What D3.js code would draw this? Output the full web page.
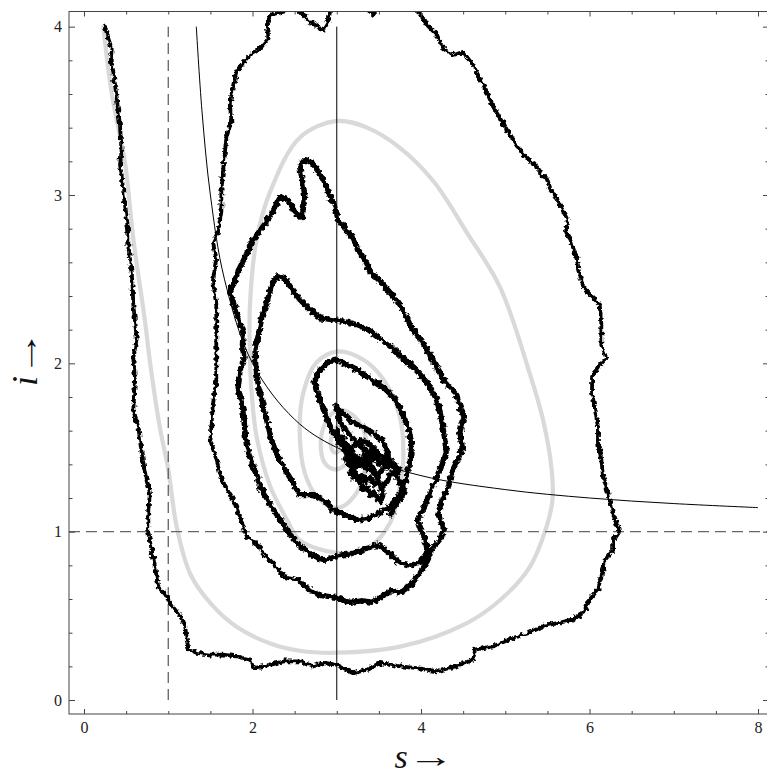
<!DOCTYPE html>
<html><head><meta charset="utf-8">
<script src="https://cdn.jsdelivr.net/npm/d3@7"></script>
<style>
html,body{margin:0;padding:0;background:#fff;}
svg{display:block;}
</style></head>
<body>
<svg id="chart" width="767" height="778"></svg>
<script>
// ---------- data ----------
const xMajorTicks = [0, 2, 4, 6, 8];
const yMajorTicks = [0, 1, 2, 3, 4];
const xMinorTicks = [0.5, 1, 1.5, 2.5, 3, 3.5, 4.5, 5, 5.5, 6.5, 7, 7.5];
const yMinorTicks = [0.2,0.4,0.6,0.8,1.2,1.4,1.6,1.8,2.2,2.4,2.6,2.8,3.2,3.4,3.6,3.8];
const xTitle = 's', yTitle = 'i', arrowGlyph = '→';

// reference lines
const sThreshold = 1;      // dashed vertical
const iThreshold = 1;      // dashed horizontal
const sEquilibrium = 3;    // solid vertical

// thin nullcline curve (s, i)
const nullcline = [[1.333,4.0],[1.4,3.5],[1.5,3.0],[1.667,2.5],[2.0,2.0],[2.5,1.667],[3.0,1.5],
  [4.0,1.333],[5.0,1.25],[6.0,1.2],[7.0,1.167],[8.0,1.143]];

// deterministic trajectory (grey spiral)
const deterministic = [[0.23,4.0],[0.33,3.6],[0.49,3.18],[0.585,2.74],[0.724,2.25],[0.78,2.02],[0.9,1.62],
  [1.0,1.37],[1.1,1.03],[1.26,0.75],[1.5,0.575],[1.81,0.435],[2.21,0.336],[2.56,0.293],[3.0,0.281],
  [3.75,0.317],[4.54,0.456],[4.94,0.594],[5.29,0.79],[5.49,1.03],[5.56,1.19],[5.55,1.37],[5.45,1.66],
  [5.29,1.94],[4.94,2.45],[4.54,2.78],[4.15,3.08],[3.75,3.28],[3.36,3.4],[3.0,3.44],[2.56,3.34],
  [2.21,3.02],[2.05,2.74],[1.97,2.35],[1.97,2.03],[1.99,1.82],[2.05,1.56],[2.21,1.27],[2.41,1.07],
  [2.56,0.95],[3.0,0.875],[3.36,0.9],[3.63,1.05],[3.75,1.27],[3.79,1.43],[3.75,1.68],[3.56,1.9],
  [3.32,2.02],[3.0,2.07],[2.75,2.0],[2.6,1.82],[2.56,1.6],[2.62,1.35],[2.78,1.2],[3.0,1.14],
  [3.22,1.22],[3.36,1.42],[3.32,1.6],[3.17,1.7],[3.0,1.72],[2.86,1.64],[2.81,1.5],[2.87,1.4],
  [3.0,1.37],[3.14,1.42],[3.19,1.52],[3.12,1.6],[3.0,1.62],[2.93,1.55],[2.95,1.48],[3.0,1.47],
  [3.05,1.5],[3.02,1.54],[3.0,1.52]];

// stochastic trajectory, outer loop
const stochasticOuter = [[0.249,4.0],[0.288,3.93],[0.329,3.87],[0.317,3.79],[0.348,3.73],[0.368,3.65],
  [0.388,3.58],[0.407,3.5],[0.427,3.42],[0.436,3.34],[0.447,3.26],[0.427,3.18],[0.447,3.12],[0.466,3.02],
  [0.487,2.94],[0.507,2.86],[0.526,2.78],[0.526,2.7],[0.546,2.62],[0.566,2.54],[0.578,2.45],[0.585,2.35],
  [0.605,2.25],[0.626,2.15],[0.585,2.03],[0.605,1.9],[0.585,1.72],[0.645,1.62],[0.685,1.47],[0.724,1.35],
  [0.783,1.23],[0.763,1.13],[0.763,1.0],[0.804,0.89],[0.843,0.79],[0.882,0.67],[0.961,0.63],[1.06,0.55],
  [1.14,0.5],[1.2,0.44],[1.22,0.36],[1.24,0.3],[1.34,0.28],[1.5,0.27],[1.65,0.27],[1.81,0.26],[1.97,0.24],
  [2.01,0.19],[2.21,0.21],[2.37,0.23],[2.56,0.23],[2.72,0.2],[2.84,0.22],[3.0,0.21],[3.2,0.16],[3.36,0.18],
  [3.51,0.22],[3.75,0.2],[3.95,0.19],[4.19,0.17],[4.42,0.2],[4.62,0.24],[4.64,0.3],[4.86,0.32],[5.1,0.37],
  [5.29,0.4],[5.45,0.44],[5.65,0.46],[5.81,0.48],[5.93,0.52],[5.99,0.59],[6.09,0.65],[6.14,0.73],[6.18,0.83],
  [6.28,0.89],[6.28,0.95],[6.36,1.0],[6.3,1.07],[6.26,1.15],[6.22,1.23],[6.16,1.33],[6.14,1.43],[6.1,1.53],
  [6.1,1.62],[6.07,1.72],[6.03,1.82],[6.03,1.92],[6.1,1.98],[6.2,2.03],[6.14,2.11],[6.14,2.23],[6.12,2.35],
  [6.04,2.39],[5.93,2.45],[5.87,2.55],[5.85,2.62],[5.77,2.74],[5.71,2.78],[5.75,2.84],[5.69,2.9],[5.61,2.98],
  [5.53,3.04],[5.49,3.1],[5.43,3.12],[5.35,3.18],[5.29,3.2],[5.18,3.26],[5.1,3.32],[4.98,3.42],[4.86,3.52],
  [4.78,3.61],[4.7,3.69],[4.62,3.77],[4.5,3.85],[4.38,3.83],[4.26,3.87],[4.19,3.95],[4.07,4.01],[3.97,4.09],
  [3.85,4.2],[3.62,4.18],[3.43,4.07],[3.3,4.15],[3.05,4.16],[2.92,4.09],[2.9,4.03],[2.84,3.98],[2.68,4.03],
  [2.56,4.09],[2.45,4.15],[2.37,4.09],[2.21,4.07],[2.17,4.01],[2.19,3.93],[2.09,3.87],[1.97,3.83],[1.89,3.79],
  [1.81,3.73],[1.77,3.65],[1.73,3.54],[1.75,3.44],[1.69,3.34],[1.67,3.24],[1.65,3.14],[1.63,3.02],[1.63,2.9],
  [1.59,2.78],[1.53,2.72],[1.57,2.62],[1.53,2.49],[1.57,2.35],[1.57,2.23],[1.57,2.03],[1.57,1.9],[1.53,1.76],
  [1.5,1.54],[1.57,1.43],[1.65,1.29],[1.77,1.19],[1.85,1.09],[1.93,0.97],[2.05,0.93],[2.13,0.87],[2.25,0.81],
  [2.37,0.73],[2.56,0.71]];

// stochastic trajectory, inner spiral
const stochasticInner = [[2.56,0.71],[2.68,0.65],[2.83,0.62],[2.99,0.61],[3.16,0.58],[3.3,0.59],[3.42,0.58],
  [3.55,0.62],[3.66,0.65],[3.77,0.64],[3.89,0.69],[3.99,0.76],[4.08,0.83],[4.13,0.9],[4.23,0.95],[4.27,1.02],
  [4.2,1.1],[4.25,1.19],[4.32,1.26],[4.37,1.36],[4.44,1.43],[4.49,1.5],[4.46,1.59],[4.51,1.68],[4.46,1.75],
  [4.42,1.82],[4.32,1.87],[4.26,1.91],[4.18,1.98],[4.11,2.05],[4.04,2.1],[3.99,2.15],[3.89,2.21],[3.79,2.31],
  [3.7,2.38],[3.6,2.44],[3.49,2.5],[3.4,2.54],[3.35,2.6],[3.25,2.67],[3.19,2.75],[3.1,2.8],[3.01,2.86],
  [2.98,2.94],[2.92,2.99],[2.86,3.07],[2.78,3.14],[2.71,3.19],[2.62,3.21],[2.56,3.17],[2.59,3.09],[2.62,3.0],
  [2.6,2.91],[2.59,2.86],[2.5,2.9],[2.42,2.97],[2.33,2.99],[2.26,2.92],[2.18,2.85],[2.09,2.79],[1.99,2.72],
  [1.92,2.64],[1.85,2.57],[1.78,2.48],[1.73,2.42],[1.78,2.35],[1.83,2.27],[1.89,2.19],[1.88,2.11],[1.9,2.03],
  [1.85,1.95],[1.83,1.85],[1.88,1.75],[1.9,1.66],[1.92,1.54],[1.97,1.44],[2.04,1.35],[2.11,1.25],[2.21,1.16],
  [2.33,1.07],[2.45,0.98],[2.56,0.92],[2.71,0.86],[2.86,0.83],[3.04,0.86],[3.18,0.87],[3.34,0.9],[3.49,0.92],
  [3.61,0.88],[3.73,0.82],[3.87,0.8],[3.99,0.82],[4.08,0.88],[4.04,0.96],[3.96,1.07],[4.05,1.16],[4.13,1.26],
  [4.23,1.37],[4.3,1.47],[4.27,1.59],[4.23,1.7],[4.18,1.79],[4.08,1.88],[3.96,1.95],[3.81,2.02],[3.66,2.09],
  [3.51,2.15],[3.37,2.2],[3.23,2.23],[3.09,2.25],[2.94,2.26],[2.8,2.27],[2.68,2.32],[2.56,2.38],[2.47,2.44],
  [2.39,2.5],[2.3,2.52],[2.23,2.47],[2.18,2.38],[2.11,2.27],[2.07,2.17],[2.03,2.08],[2.04,1.97],[2.07,1.87],
  [2.11,1.78],[2.16,1.68],[2.21,1.57],[2.28,1.47],[2.37,1.38],[2.47,1.3],[2.56,1.22],[2.72,1.22],[2.84,1.19],
  [2.96,1.13],[3.1,1.1],[3.25,1.07],[3.39,1.08],[3.54,1.12],[3.66,1.16],[3.75,1.22],[3.82,1.31],[3.87,1.41],
  [3.89,1.52],[3.85,1.62],[3.77,1.71],[3.69,1.79],[3.57,1.85],[3.42,1.9],[3.28,1.95],[3.13,1.99],[3.01,2.02],
  [2.9,2.01],[2.8,1.96],[2.73,1.89],[2.78,1.81],[2.85,1.72],[2.92,1.63],[3.01,1.54],[3.13,1.47],[3.25,1.41],
  [3.37,1.37],[3.49,1.34],[3.57,1.38],[3.61,1.46],[3.54,1.54],[3.42,1.59],[3.28,1.63],[3.16,1.66],[3.06,1.71],
  [2.99,1.75],[3.04,1.65],[3.16,1.57],[3.3,1.5],[3.44,1.44],[3.34,1.4],[3.18,1.38],[3.1,1.43],[3.18,1.5],
  [3.28,1.54],[3.39,1.52],[3.51,1.46],[3.66,1.41],[3.75,1.37],[3.7,1.33],[3.64,1.35],[3.6,1.3],[3.55,1.27],
  [3.5,1.3],[3.44,1.28],[3.4,1.32],[3.35,1.3],[3.3,1.34],[3.26,1.31],[3.22,1.35],[3.18,1.4],[3.14,1.44],
  [3.1,1.48],[3.06,1.52],[3.02,1.56],[3.0,1.6],[3.03,1.58],[3.08,1.55],[3.12,1.52],[3.17,1.5],[3.2,1.46],
  [3.25,1.44],[3.28,1.4],[3.33,1.38],[3.36,1.42],[3.4,1.4],[3.45,1.36],[3.48,1.32],[3.52,1.28],[3.55,1.22],
  [3.52,1.18],[3.48,1.2],[3.44,1.24],[3.4,1.22],[3.36,1.26],[3.31,1.25],[3.28,1.3],[3.24,1.34],[3.2,1.32],
  [3.16,1.36],[3.2,1.4],[3.24,1.38],[3.3,1.42],[3.34,1.46],[3.38,1.44],[3.42,1.48],[3.47,1.45],[3.5,1.4],
  [3.55,1.42],[3.6,1.38],[3.64,1.42],[3.68,1.38],[3.72,1.32],[3.76,1.28],[3.8,1.24],[3.77,1.2],[3.72,1.18],
  [3.68,1.14],[3.64,1.1]];

// ---------- layout ----------
const W = 767, H = 778;
const frame = {left: 69, right: 769, top: 11.5, bottom: 714};
const x = d3.scaleLinear().domain([-0.178, 8.13]).range([frame.left, frame.right]);
const y = d3.scaleLinear().domain([-0.083, 4.09]).range([frame.bottom, frame.top]);

const svg = d3.select('#chart');
const defs = svg.append('defs');
defs.append('clipPath').attr('id','plotclip').append('rect')
  .attr('x', frame.left).attr('y', frame.top)
  .attr('width', frame.right - frame.left).attr('height', frame.bottom - frame.top);
const filt = defs.append('filter').attr('id','rough')
  .attr('filterUnits','userSpaceOnUse').attr('x',0).attr('y',0).attr('width',W).attr('height',H);
filt.append('feTurbulence').attr('type','fractalNoise').attr('baseFrequency',0.25)
  .attr('numOctaves',2).attr('seed',7).attr('result','noise');
filt.append('feDisplacementMap').attr('in','SourceGraphic').attr('in2','noise')
  .attr('scale',6).attr('xChannelSelector','R').attr('yChannelSelector','G');

const plot = svg.append('g').attr('clip-path','url(#plotclip)');
const line = d3.line().x(d => x(d[0])).y(d => y(d[1]));

// grey deterministic spiral
plot.append('path').datum(deterministic)
  .attr('d', line.curve(d3.curveCatmullRom.alpha(0.5)))
  .attr('fill','none').attr('stroke','#d9d9d9').attr('stroke-width',4.2)
  .attr('stroke-linecap','round');

// reference lines
plot.append('line').attr('x1',x(sThreshold)).attr('x2',x(sThreshold)).attr('y1',y(0)).attr('y2',y(4))
  .attr('stroke','#555').attr('stroke-width',1.2).attr('stroke-dasharray','11,6');
plot.append('line').attr('x1',frame.left).attr('x2',frame.right).attr('y1',y(iThreshold)).attr('y2',y(iThreshold))
  .attr('stroke','#666').attr('stroke-width',1.2).attr('stroke-dasharray','11,6');
plot.append('line').attr('x1',x(sEquilibrium)).attr('x2',x(sEquilibrium)).attr('y1',y(0)).attr('y2',y(4))
  .attr('stroke','#000').attr('stroke-width',1);

// nullcline curve
plot.append('path').datum(nullcline)
  .attr('d', d3.line().x(d => x(d[0])).y(d => y(d[1])).curve(d3.curveCatmullRom.alpha(0.5)))
  .attr('fill','none').attr('stroke','#000').attr('stroke-width',1);

// stochastic path
const rough = plot.append('g').attr('filter','url(#rough)');
const lin = d3.line().x(d => x(d[0])).y(d => y(d[1])).curve(d3.curveLinear);
rough.append('path').datum(stochasticOuter).attr('d', lin)
  .attr('fill','none').attr('stroke','#000').attr('stroke-width',3.8)
  .attr('stroke-linejoin','round').attr('stroke-linecap','round');
rough.append('path').datum(stochasticInner).attr('d', lin)
  .attr('fill','none').attr('stroke','#000').attr('stroke-width',5.4)
  .attr('stroke-linejoin','round').attr('stroke-linecap','round');

// ---------- frame & axes ----------
const axisColor = '#444';
const fontFam = '"Liberation Serif", "Times New Roman", serif';
function styleAxis(g){
  g.select('.domain').remove();
  g.selectAll('line').attr('stroke', axisColor);
  g.selectAll('text').attr('font-family', fontFam).attr('font-size',16).attr('fill','#222');
}
svg.append('rect').attr('x',frame.left).attr('y',frame.top)
  .attr('width',frame.right-frame.left).attr('height',frame.bottom-frame.top)
  .attr('fill','none').attr('stroke',axisColor).attr('stroke-width',1);

// bottom
svg.append('g').attr('transform',`translate(0,${frame.bottom})`)
  .call(d3.axisBottom(x).tickValues(xMajorTicks).tickSize(-5).tickPadding(8).tickFormat(d3.format('d')))
  .call(styleAxis);
svg.append('g').attr('transform',`translate(0,${frame.bottom})`)
  .call(d3.axisBottom(x).tickValues(xMinorTicks).tickSize(-3).tickFormat(''))
  .call(styleAxis);
// top
svg.append('g').attr('transform',`translate(0,${frame.top})`)
  .call(d3.axisTop(x).tickValues(xMajorTicks).tickSize(-5).tickFormat(''))
  .call(styleAxis);
svg.append('g').attr('transform',`translate(0,${frame.top})`)
  .call(d3.axisTop(x).tickValues(xMinorTicks).tickSize(-3).tickFormat(''))
  .call(styleAxis);
// left
svg.append('g').attr('transform',`translate(${frame.left},0)`)
  .call(d3.axisLeft(y).tickValues(yMajorTicks).tickSize(-6).tickPadding(7).tickFormat(d3.format('d')))
  .call(styleAxis);
svg.append('g').attr('transform',`translate(${frame.left},0)`)
  .call(d3.axisLeft(y).tickValues(yMinorTicks).tickSize(-3.5).tickFormat(''))
  .call(styleAxis);
// right
svg.append('g').attr('transform',`translate(${frame.right},0)`)
  .call(d3.axisRight(y).tickValues(yMajorTicks).tickSize(-6).tickFormat(''))
  .call(styleAxis);
svg.append('g').attr('transform',`translate(${frame.right},0)`)
  .call(d3.axisRight(y).tickValues(yMinorTicks).tickSize(-3.5).tickFormat(''))
  .call(styleAxis);

// axis titles
const tg = svg.append('g').attr('font-family', fontFam).attr('fill','#111');
tg.append('text').attr('x', 401).attr('y', 768).attr('text-anchor','middle')
  .attr('font-size', 34).attr('font-style','italic').text(xTitle);
tg.append('text').attr('transform','translate(408,767) scale(1.45,1)').attr('font-size', 32).text(arrowGlyph);
const yg = tg.append('g').attr('transform','translate(37,0) rotate(-90)');
yg.append('text').attr('x', -381).attr('y', 0).attr('text-anchor','middle')
  .attr('font-size', 36).attr('font-style','italic').text(yTitle);
yg.append('text').attr('transform','translate(-376,0) scale(1.45,1)').attr('font-size', 32).text(arrowGlyph);
</script>
</body></html>
